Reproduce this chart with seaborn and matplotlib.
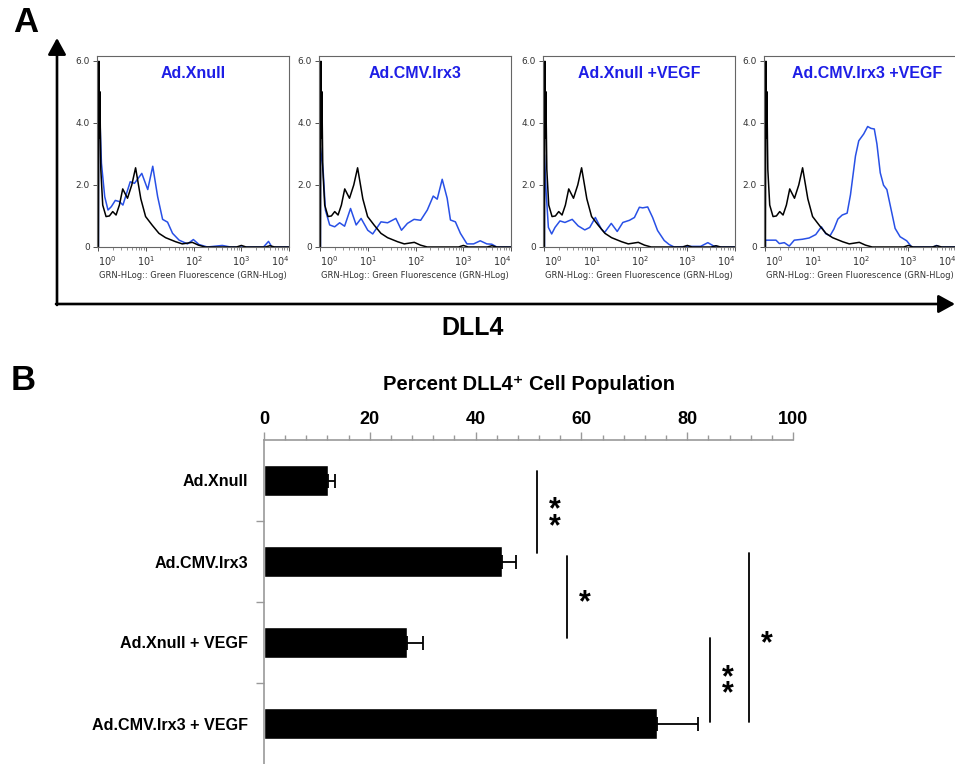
import numpy as np
import pandas as pd
import seaborn as sns
import matplotlib.pyplot as plt

# ---- panel A: flow histograms (x = log10 GRN fluorescence, y = counts) ----
panel_titles = ["Ad.Xnull", "Ad.CMV.Irx3", "Ad.Xnull +VEGF", "Ad.CMV.Irx3 +VEGF"]

ctrl_log = [0.0, 0.01, 0.02, 0.03, 0.05, 0.09, 0.16, 0.23, 0.30, 0.37, 0.44, 0.51, 0.61, 0.70, 0.78,
            0.89, 0.99, 1.13, 1.27, 1.41, 1.62, 1.76, 1.97, 2.10, 2.24, 2.90, 3.00, 3.10, 3.50, 3.60,
            3.70, 4.00]
ctrl_y = [0.0, 5.98, 3.5, 5.0, 2.5, 1.35, 0.98, 1.00, 1.14, 1.03, 1.35, 1.87, 1.57, 2.00, 2.55,
          1.55, 0.98, 0.70, 0.44, 0.30, 0.17, 0.10, 0.15, 0.06, 0.00, 0.00, 0.05, 0.00, 0.00, 0.04,
          0.00, 0.00]

xnull_log = [0.0, 0.0, 0.03, 0.063, 0.132, 0.201, 0.271, 0.354, 0.444, 0.514, 0.667, 0.757, 0.91,
             1.035, 1.14, 1.243, 1.347, 1.451, 1.556, 1.694, 1.868, 1.993, 2.111, 2.285, 2.6, 2.77,
             3.465, 3.57, 3.64, 4.0]
xnull_y = [0.0, 5.5, 4.2, 2.7, 1.62, 1.19, 1.3, 1.5, 1.46, 1.35, 2.1, 2.05, 2.37, 1.85, 2.6, 1.62,
           0.89, 0.8, 0.44, 0.22, 0.1, 0.24, 0.08, 0.0, 0.05, 0.0, 0.0, 0.18, 0.0, 0.0]

irx3_log = [0.0, 0.0, 0.056, 0.104, 0.194, 0.299, 0.403, 0.507, 0.632, 0.75, 0.854, 0.993, 1.097,
            1.271, 1.41, 1.583, 1.701, 1.826, 1.965, 2.104, 2.243, 2.368, 2.451, 2.556, 2.66, 2.729,
            2.833, 2.938, 3.076, 3.215, 3.354, 3.493, 3.597, 3.701, 4.0]
irx3_y = [0.0, 3.2, 2.5, 1.19, 0.71, 0.65, 0.78, 0.67, 1.24, 0.71, 0.92, 0.54, 0.42, 0.81, 0.78,
          0.92, 0.54, 0.76, 0.89, 0.86, 1.19, 1.64, 1.54, 2.18, 1.57, 0.87, 0.81, 0.44, 0.1, 0.1,
          0.2, 0.1, 0.09, 0.0, 0.0]

xnull_vegf_log = [0.0, 0.0, 0.035, 0.083, 0.152, 0.222, 0.326, 0.43, 0.583, 0.708, 0.847, 0.951,
                  1.069, 1.194, 1.264, 1.403, 1.528, 1.646, 1.785, 1.889, 1.993, 2.062, 2.167,
                  2.271, 2.375, 2.514, 2.618, 2.722, 3.069, 3.278, 3.43, 3.555, 3.694, 4.0]
xnull_vegf_y = [0.0, 2.97, 1.79, 0.63, 0.42, 0.63, 0.84, 0.79, 0.89, 0.68, 0.55, 0.63, 0.95, 0.58,
                0.47, 0.76, 0.5, 0.79, 0.86, 0.95, 1.28, 1.26, 1.29, 0.95, 0.53, 0.21, 0.08, 0.0,
                0.02, 0.02, 0.14, 0.03, 0.0, 0.0]

irx3_vegf_log = [0.0, 0.0, 0.222, 0.292, 0.396, 0.5, 0.605, 0.778, 0.917, 1.056, 1.174, 1.265,
                 1.355, 1.438, 1.521, 1.612, 1.715, 1.785, 1.89, 1.959, 2.063, 2.146, 2.215, 2.285,
                 2.34, 2.41, 2.479, 2.549, 2.632, 2.722, 2.827, 2.965, 3.07, 3.522, 3.591, 3.66, 4.0]
irx3_vegf_y = [0.0, 0.22, 0.22, 0.11, 0.14, 0.03, 0.22, 0.25, 0.29, 0.4, 0.65, 0.43, 0.36, 0.58,
               0.9, 1.03, 1.09, 1.68, 2.93, 3.42, 3.64, 3.88, 3.82, 3.8, 3.32, 2.39, 1.99, 1.85,
               1.25, 0.6, 0.33, 0.2, 0.0, 0.0, 0.05, 0.0, 0.0]

# ---- panel B: percent DLL4+ cells ----
groups = ["Ad.Xnull", "Ad.CMV.Irx3", "Ad.Xnull + VEGF", "Ad.CMV.Irx3 + VEGF"]
pct = [12.1, 45.0, 27.0, 74.3]
sem = [1.3, 2.6, 3.0, 7.7]
sig_x = [51.6, 57.3, 84.3, 91.7]
sig_from = [-0.12, 0.93, 1.94, 0.90]
sig_to = [0.90, 1.94, 2.98, 2.98]
sig_text = ["**", "*", "**", "*"]

sns.set_theme(style="white")
plt.rcParams['font.family'] = ['Liberation Sans', 'DejaVu Sans']
for key in ['text.color', 'axes.labelcolor', 'xtick.color', 'ytick.color']:
    plt.rcParams[key] = 'black'

W, H = 955, 764
fig = plt.figure(figsize=(W / 100, H / 100), dpi=100)
fig.patch.set_facecolor('white')

# overlay in pixel coordinates for arrows / panel letters
ov = fig.add_axes([0, 0, 1, 1])
ov.set_xlim(0, W)
ov.set_ylim(H, 0)
ov.set_axis_off()
arrow = dict(arrowstyle='-|>,head_length=1.0,head_width=0.55', lw=1.9, color='black',
             mutation_scale=10, shrinkA=0, shrinkB=0)
ov.annotate('', xy=(57, 38), xytext=(57, 305), arrowprops=arrow)
ov.annotate('', xy=(955, 304), xytext=(56, 304), arrowprops=arrow)
ov.text(26, 22, "A", fontsize=25, fontweight='bold', ha='center', va='center')
ov.text(23, 381, "B", fontsize=25, fontweight='bold', ha='center', va='center')
ov.text(473, 328, "DLL4", fontsize=18, fontweight='bold', ha='center', va='center')
ov.text(529, 385, "Percent DLL4\u207a Cell Population", fontsize=14.5, fontweight='bold',
        ha='center', va='center')

blue_line = '#2850e6'
blue_text = '#1e1ee6'
gray = '#666666'
hist_left = [97, 319, 543, 764]
title_x = [0.5, 0.5, 0.5, 0.535]
curves = [(xnull_log, xnull_y), (irx3_log, irx3_y),
          (xnull_vegf_log, xnull_vegf_y), (irx3_vegf_log, irx3_vegf_y)]
ctrl = pd.DataFrame({'x': 10 ** np.array(ctrl_log), 'y': ctrl_y})

for i, (lx, ly) in enumerate(curves):
    ax = fig.add_axes([hist_left[i] / W, 1 - 247 / H, 192 / W, 191 / H])
    ax.set_xscale('log')
    d = pd.DataFrame({'x': 10 ** np.array(lx), 'y': ly})
    sns.lineplot(data=d, x='x', y='y', ax=ax, color=blue_line, lw=1.1,
                 estimator=None, sort=False)
    sns.lineplot(data=ctrl, x='x', y='y', ax=ax, color='black', lw=1.1,
                 estimator=None, sort=False)
    ax.set_xlim(10 ** -0.03, 1e4)
    ax.set_ylim(0, 6.15)
    ax.set_xticks([1, 10, 100, 1000, 10000],
                  labels=['$10^{%d}$' % k for k in range(5)])
    ax.set_yticks([0, 2, 4, 6], labels=['0', '2.0', '4.0', '6.0'])
    ax.minorticks_on()
    ax.yaxis.set_minor_locator(plt.NullLocator())
    ax.tick_params(axis='both', which='major', labelsize=7, colors='#333333', length=3,
                   width=0.6, pad=2, direction='out', bottom=True, left=True)
    ax.tick_params(axis='x', which='minor', length=2, width=0.5, color=gray, bottom=True)
    ax.tick_params(axis='y', labelsize=6.5)
    labs = ax.get_xticklabels()
    labs[0].set_ha('left')
    labs[-1].set_ha('right')
    for lab in labs + ax.get_yticklabels():
        lab.set_family('DejaVu Sans')
    ax.set_xlabel("GRN-HLog:: Green Fluorescence (GRN-HLog)", fontsize=6, color='#333333',
                  labelpad=2, family='DejaVu Sans')
    ax.set_ylabel('')
    for s in ax.spines.values():
        s.set_color(gray)
        s.set_linewidth(0.8)
    ax.text(title_x[i], 0.91, panel_titles[i], transform=ax.transAxes, ha='center',
            va='center', color=blue_text, fontsize=11.5, fontweight='bold')

# ---- panel B bar chart ----
axb = fig.add_axes([264 / W, 0, 529 / W, 324 / H])
dfb = pd.DataFrame({'group': groups, 'pct': pct})
sns.barplot(data=dfb, x='pct', y='group', orient='h', color='black', saturation=1,
            width=0.38, errorbar=None, ax=axb)
axb.errorbar(pct, range(len(groups)), xerr=[np.zeros(len(sem)), sem], fmt='none',
             ecolor='black', elinewidth=1.3, capsize=4.7, capthick=1.3)
axb.set_xlim(0, 100)
axb.set_ylim(3.5, -0.5)
axb.xaxis.tick_top()
axb.set_xticks(np.arange(0, 101, 20))
axb.set_xticks(np.arange(0, 101, 4), minor=True)
axb.tick_params(axis='x', which='major', labelsize=13, length=6, width=1.0, color='#999999',
                pad=3, top=True, bottom=False)
axb.tick_params(axis='x', which='minor', length=3.5, width=1.0, color='#999999',
                top=True, bottom=False)
axb.set_yticks(range(len(groups)), labels=groups)
axb.set_yticks([0.5, 1.5, 2.5], minor=True)
axb.tick_params(axis='y', which='major', length=0, labelsize=11.6, pad=11.5)
axb.tick_params(axis='y', which='minor', length=6, width=1.0, color='#999999', left=True)
for lab in axb.get_xticklabels() + axb.get_yticklabels():
    lab.set_fontweight('bold')
axb.set_xlabel('')
axb.set_ylabel('')
for side in ['right', 'bottom']:
    axb.spines[side].set_visible(False)
for side in ['top', 'left']:
    axb.spines[side].set_color('#999999')
    axb.spines[side].set_linewidth(1.2)

for xs, y0, y1, t in zip(sig_x, sig_from, sig_to, sig_text):
    axb.plot([xs, xs], [y0, y1], color='black', lw=1.3, clip_on=False)
    axb.text(xs + 3.3, (y0 + y1) / 2 + 0.08, t.replace('*', '*\n').strip(), fontsize=22,
             fontweight='bold', ha='center', va='center', linespacing=0.42, clip_on=False)

fig.savefig('out.png', dpi=100)
